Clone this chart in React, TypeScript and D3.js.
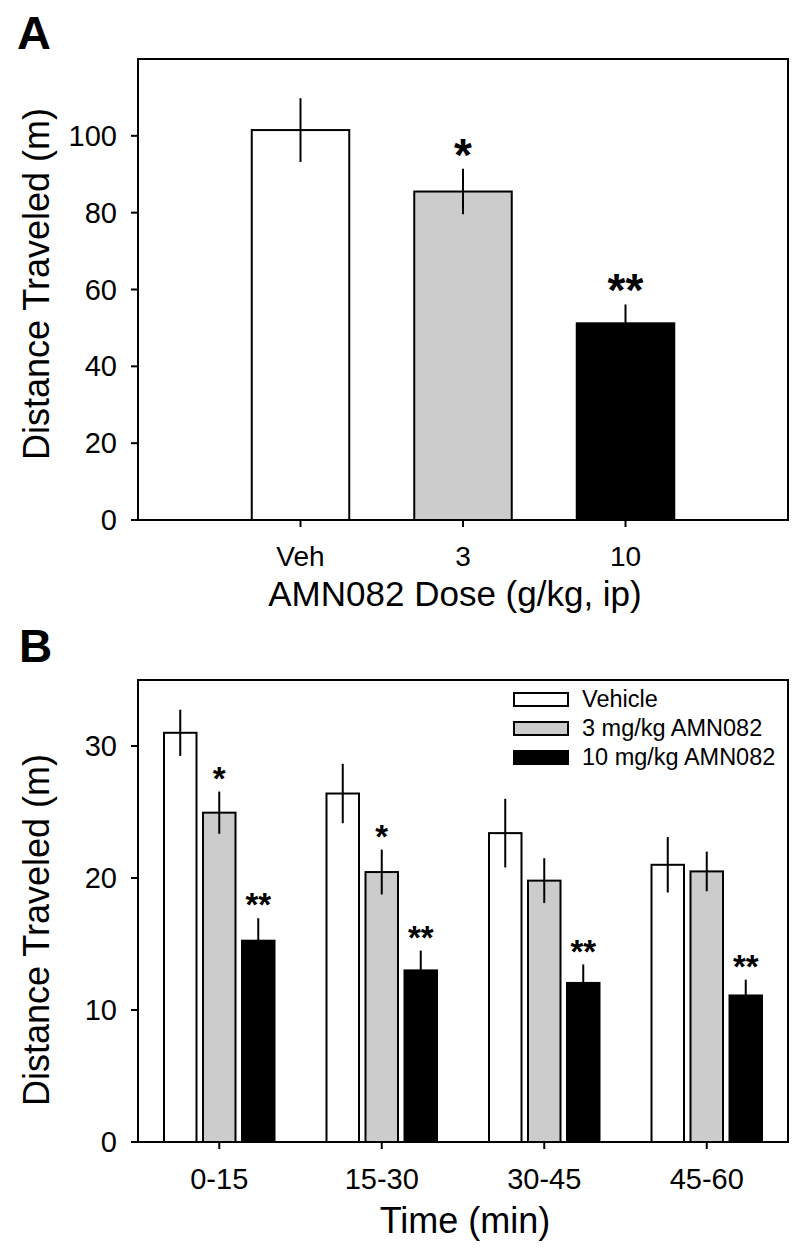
import React from "react";
import * as d3 from "d3";

const doseCategories = ["Veh", "3", "10"];
const doseMeans = [101.5, 85.5, 51.2];
const doseSEM = [8.3, 5.9, 4.9];
const doseSig = ["", "*", "**"];
const doseFills = ["#ffffff", "#cccccc", "#000000"];
const doseTicks = [0, 20, 40, 60, 80, 100];

const timeBins = ["0-15", "15-30", "30-45", "45-60"];
const seriesNames = ["Vehicle", "3 mg/kg AMN082", "10 mg/kg AMN082"];
const seriesFills = ["#ffffff", "#cccccc", "#000000"];
const vehicleMeans = [31.0, 26.4, 23.4, 21.0];
const vehicleSEM = [1.75, 2.25, 2.6, 2.1];
const lowMeans = [24.95, 20.45, 19.8, 20.5];
const lowSEM = [1.6, 1.7, 1.7, 1.5];
const highMeans = [15.25, 13.0, 12.05, 11.1];
const highSEM = [1.7, 1.5, 1.4, 1.2];
const vehicleSig = ["", "", "", ""];
const lowSig = ["*", "*", "", ""];
const highSig = ["**", "**", "**", "**"];
const timeTicks = [0, 10, 20, 30];

const FONT = "'Liberation Sans', Arial, Helvetica, sans-serif";

export default function App() {
  // Panel A
  const L = 138, R = 788;
  const aTop = 59, aBot = 520;
  const xA = d3.scaleLinear().domain([0, 4]).range([L, R]);
  const yA = d3.scaleLinear().domain([0, 120]).range([aBot, aTop]);
  const barWA = xA(0.6) - xA(0);

  // Panel B
  const bTop = 680, bBot = 1142;
  const xB = d3.scaleBand().domain(timeBins).range([L, R]).paddingInner(0).paddingOuter(0);
  const bw = xB.bandwidth();
  const xSub = d3
    .scaleBand()
    .domain(seriesNames)
    .range([-0.36 * bw, 0.36 * bw])
    .paddingInner(1 / 6)
    .paddingOuter(1 / 12);
  const yB = d3.scaleLinear().domain([0, 35]).range([bBot, bTop]);

  const seriesData = [
    { name: seriesNames[0], means: vehicleMeans, sem: vehicleSEM, sig: vehicleSig, fill: seriesFills[0] },
    { name: seriesNames[1], means: lowMeans, sem: lowSEM, sig: lowSig, fill: seriesFills[1] },
    { name: seriesNames[2], means: highMeans, sem: highSEM, sig: highSig, fill: seriesFills[2] },
  ];

  const sw = 2;

  return (
    <svg
      width={800}
      height={1251}
      viewBox="0 0 800 1251"
      style={{ position: "absolute", left: 0, top: 0, background: "#fff" }}
      fontFamily={FONT}
    >
      <rect x={0} y={0} width={800} height={1251} fill="#fff" />
      {/* ---------- Panel A ---------- */}
      <text x={17} y={49} fontSize={47} fontWeight="bold">A</text>
      {doseCategories.map((c, i) => {
        const cx = xA(i + 1);
        const m = doseMeans[i];
        const e = doseSEM[i];
        return (
          <g key={c}>
            <rect
              x={cx - barWA / 2}
              y={yA(m)}
              width={barWA}
              height={yA(0) - yA(m)}
              fill={doseFills[i]}
              stroke="#000"
              strokeWidth={sw}
            />
            <line x1={cx} x2={cx} y1={yA(m + e)} y2={yA(m - e)} stroke="#000" strokeWidth={sw} />
            {doseSig[i] && (
              <text
                x={cx}
                y={yA(m + e) - 25 + 0.58 * 46}
                fontSize={46}
                fontWeight="bold"
                textAnchor="middle"
              >
                {doseSig[i]}
              </text>
            )}
          </g>
        );
      })}
      <rect x={L} y={aTop} width={R - L} height={aBot - aTop} fill="none" stroke="#000" strokeWidth={sw} />
      {doseTicks.map((t) => (
        <g key={t}>
          <line x1={L - 7} x2={L} y1={yA(t)} y2={yA(t)} stroke="#000" strokeWidth={sw} />
          <text x={117} y={yA(t) + 10} fontSize={29} textAnchor="end">{t}</text>
        </g>
      ))}
      {doseCategories.map((c, i) => (
        <g key={c}>
          <line x1={xA(i + 1)} x2={xA(i + 1)} y1={aBot} y2={aBot + 7} stroke="#000" strokeWidth={sw} />
          <text x={xA(i + 1)} y={566} fontSize={28} textAnchor="middle">{c}</text>
        </g>
      ))}
      <text x={(L + R) / 2 - 8} y={606} fontSize={35} textAnchor="middle">AMN082 Dose (g/kg, ip)</text>
      <text transform={`translate(49,${284}) rotate(-90)`} fontSize={36} textAnchor="middle">
        Distance Traveled (m)
      </text>

      {/* ---------- Panel B ---------- */}
      <text x={19} y={662} fontSize={46} fontWeight="bold">B</text>
      {timeBins.map((t, j) => {
        const gx = (xB(t) as number) + bw / 2;
        return (
          <g key={t}>
            {seriesData.map((s) => {
              const bx = gx + (xSub(s.name) as number);
              const bwid = xSub.bandwidth();
              const cx = bx + bwid / 2;
              const m = s.means[j];
              const e = s.sem[j];
              return (
                <g key={s.name}>
                  <rect
                    x={bx}
                    y={yB(m)}
                    width={bwid}
                    height={yB(0) - yB(m)}
                    fill={s.fill}
                    stroke="#000"
                    strokeWidth={sw}
                  />
                  <line x1={cx} x2={cx} y1={yB(m + e)} y2={yB(m - e)} stroke="#000" strokeWidth={sw} />
                  {s.sig[j] && (
                    <text
                      x={cx}
                      y={yB(m + e) - 21 + 0.58 * 33}
                      fontSize={33}
                      fontWeight="bold"
                      textAnchor="middle"
                    >
                      {s.sig[j]}
                    </text>
                  )}
                </g>
              );
            })}
          </g>
        );
      })}
      <rect x={L} y={bTop} width={R - L} height={bBot - bTop} fill="none" stroke="#000" strokeWidth={sw} />
      {timeTicks.map((t) => (
        <g key={t}>
          <line x1={L - 7} x2={L} y1={yB(t)} y2={yB(t)} stroke="#000" strokeWidth={sw} />
          <text x={117} y={yB(t) + 10} fontSize={29} textAnchor="end">{t}</text>
        </g>
      ))}
      {timeBins.map((t) => {
        const gx = (xB(t) as number) + bw / 2;
        return (
          <g key={t}>
            <line x1={gx} x2={gx} y1={bBot} y2={bBot + 7} stroke="#000" strokeWidth={sw} />
            <text x={gx} y={1189} fontSize={29} textAnchor="middle">{t}</text>
          </g>
        );
      })}
      <text x={(L + R) / 2 + 2} y={1233} fontSize={36} textAnchor="middle">Time (min)</text>
      <text transform={`translate(49,${930}) rotate(-90)`} fontSize={36} textAnchor="middle">
        Distance Traveled (m)
      </text>
      {seriesData.map((s, i) => (
        <g key={s.name}>
          <rect x={514} y={693 + i * 29} width={54} height={13} fill={s.fill} stroke="#000" strokeWidth={sw} />
          <text x={582} y={707 + i * 29} fontSize={23.5}>{s.name}</text>
        </g>
      ))}
    </svg>
  );
}
